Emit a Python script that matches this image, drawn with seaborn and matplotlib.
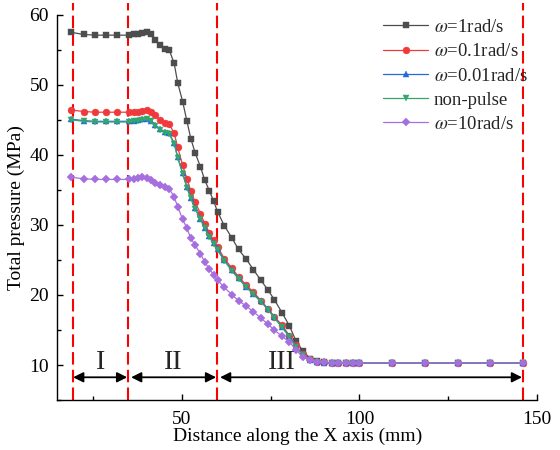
import pandas as pd
import matplotlib
matplotlib.use('Agg')
import matplotlib.pyplot as plt
from matplotlib.ticker import MultipleLocator
import seaborn as sns

# distance along X axis (mm)
x = [19.0, 22.5, 25.6, 28.8, 31.9, 35.1, 36.5, 37.7, 39.0, 40.3,
     41.4, 42.6, 43.9, 45.2, 46.5, 47.9, 48.9, 50.3, 51.5, 52.6,
     53.8, 55.3, 56.5, 57.8, 59.0, 60.1, 62.0, 64.2, 66.0, 68.2,
     70.2, 72.3, 74.3, 76.1, 78.2, 80.3, 82.1, 84.1, 86.2, 88.2,
     90.1, 92.2, 94.1, 96.2, 98.2, 100.0, 109.2, 118.4, 127.6, 136.8, 146.0]

# total pressure (MPa)
p_w1 = [57.5, 57.2, 57.1, 57.1, 57.1, 57.1, 57.2, 57.3, 57.4, 57.5,
        57.2, 56.4, 55.7, 55.1, 55.0, 53.1, 50.3, 47.6, 44.8, 42.3,
        40.3, 38.3, 36.4, 34.9, 33.4, 31.9, 29.9, 28.1, 26.5, 25.1,
        23.6, 22.1, 20.7, 19.3, 17.5, 15.6, 13.5, 12.0, 10.9, 10.6,
        10.4, 10.3, 10.3, 10.3, 10.3, 10.3, 10.3, 10.3, 10.3, 10.3, 10.3]
p_w01 = [46.4, 46.2, 46.1, 46.1, 46.1, 46.1, 46.1, 46.2, 46.3, 46.4,
         46.1, 45.7, 45.0, 44.6, 44.4, 43.1, 41.1, 38.5, 36.6, 34.8,
         33.3, 31.6, 30.2, 28.9, 27.8, 26.9, 25.2, 23.8, 22.6, 21.4,
         20.4, 19.2, 18.0, 16.9, 15.7, 14.2, 12.8, 11.6, 10.8, 10.5,
         10.4, 10.3, 10.3, 10.3, 10.3, 10.3, 10.3, 10.3, 10.3, 10.3, 10.3]
p_w001 = [45.1, 44.9, 44.8, 44.8, 44.8, 44.8, 44.9, 45.0, 45.1, 45.2,
          44.9, 44.3, 43.7, 43.3, 43.1, 41.7, 39.7, 37.4, 35.4, 33.9,
          32.4, 30.9, 29.6, 28.4, 27.4, 26.5, 25.0, 23.5, 22.4, 21.2,
          20.2, 19.1, 18.0, 16.8, 15.5, 14.1, 12.7, 11.5, 10.7, 10.4,
          10.3, 10.3, 10.3, 10.3, 10.3, 10.3, 10.3, 10.3, 10.3, 10.3, 10.3]
p_nonpulse = [45.0, 44.8, 44.7, 44.7, 44.7, 44.7, 44.8, 44.9, 45.0, 45.1,
              44.8, 44.2, 43.6, 43.2, 43.0, 41.6, 39.6, 37.3, 35.3, 33.8,
              32.3, 30.8, 29.5, 28.3, 27.3, 26.4, 24.9, 23.4, 22.3, 21.1,
              20.1, 19.0, 17.9, 16.7, 15.4, 14.0, 12.6, 11.4, 10.7, 10.4,
              10.3, 10.3, 10.3, 10.3, 10.3, 10.3, 10.3, 10.3, 10.3, 10.3, 10.3]
p_w10 = [36.8, 36.6, 36.5, 36.5, 36.5, 36.5, 36.6, 36.7, 36.8, 36.7,
         36.4, 36.0, 35.7, 35.4, 35.2, 34.0, 32.6, 30.8, 29.5, 28.1,
         27.1, 25.9, 24.7, 23.7, 22.9, 22.1, 21.1, 20.0, 19.2, 18.4,
         17.6, 16.7, 15.8, 15.0, 14.1, 13.3, 12.2, 11.1, 10.7, 10.5,
         10.4, 10.3, 10.3, 10.3, 10.3, 10.3, 10.3, 10.3, 10.3, 10.3, 10.3]

labels = [r'$\omega$=1rad/s', r'$\omega$=0.1rad/s', r'$\omega$=0.01rad/s',
          'non-pulse', r'$\omega$=10rad/s']
series = [p_w1, p_w01, p_w001, p_nonpulse, p_w10]
colors = ['#4d4d4d', '#f0393b', '#2469d8', '#33a66b', '#a66fdf']
markers = ['s', 'o', '^', 'v', 'D']
msizes = [4.5, 5, 5, 5, 4.5]

# zone boundaries and zone names
zone_x = [19.5, 35, 60, 146]
zone_names = ['I', 'II', 'III']
zone_label_x = [27.2, 47.5, 78.2]

sns.set_theme(style='ticks')
plt.rcParams['font.family'] = ['Liberation Serif', 'DejaVu Serif']
plt.rcParams['mathtext.fontset'] = 'stix'

fig = plt.figure(figsize=(5.6, 4.5), dpi=100)
ax = fig.add_axes([0.102, 0.111, 0.8575, 0.856])

for y, lab, c, m, ms in zip(series, labels, colors, markers, msizes):
    sns.lineplot(x=x, y=y, ax=ax, color=c, marker=m, markersize=ms,
                 mec=c, mew=0.3, lw=0.9, label=lab)

for xv in zone_x:
    ax.axvline(xv, ymin=0, ymax=1.03, color='red', lw=1.5,
               dashes=(6, 2.5), clip_on=False, zorder=1)

arrow_y = 8.25
for i in range(3):
    x0 = zone_x[i] + (0.0 if i == 0 else 0.8)
    x1 = zone_x[i + 1] - 0.3
    ax.annotate('', xy=(x0, arrow_y), xytext=(x1, arrow_y),
                arrowprops=dict(arrowstyle='<|-|>', color='black', lw=1.3,
                                mutation_scale=15, shrinkA=0, shrinkB=0))
    ax.text(zone_label_x[i], 10.4, zone_names[i], fontsize=20,
            ha='center', va='center')

ax.set_xlim(15, 150)
ax.set_ylim(5, 60)
ax.xaxis.set_major_locator(MultipleLocator(50))
ax.xaxis.set_minor_locator(MultipleLocator(25))
ax.yaxis.set_major_locator(MultipleLocator(10))
ax.yaxis.set_minor_locator(MultipleLocator(5))
ax.tick_params(which='both', direction='in', color='black', width=1,
               labelsize=14, labelcolor='black')
ax.tick_params(which='major', length=4.5)
ax.tick_params(which='minor', length=3)
ax.tick_params(axis='x', pad=8)
ax.tick_params(axis='y', pad=6)

sns.despine(ax=ax)
for s in ['left', 'bottom']:
    ax.spines[s].set_color('black')
    ax.spines[s].set_linewidth(1.0)

ax.set_xlabel('Distance along the X axis (mm)', fontsize=14, labelpad=0, color='black')
ax.set_ylabel('Total pressure (MPa)', fontsize=14, labelpad=3, color='black')

ax.legend(loc='upper left', bbox_to_anchor=(0.684, 0.958),
          bbox_transform=fig.transFigure, frameon=False, fontsize=13.5,
          handlelength=2.4, handletextpad=0.3, labelspacing=0.38,
          borderpad=0, borderaxespad=0)

fig.savefig('out.png', dpi=100)
